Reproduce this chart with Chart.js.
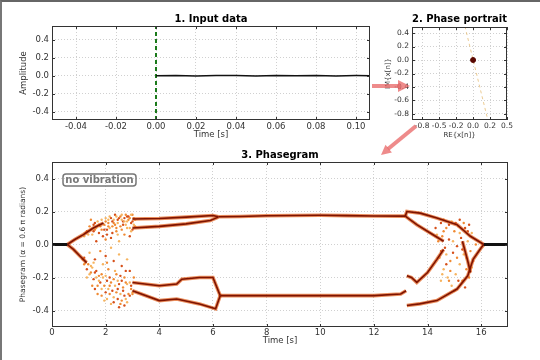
<!DOCTYPE html>
<html>
<head>
<meta charset="utf-8">
<script src="https://cdn.jsdelivr.net/npm/chart.js@4.4.1/dist/chart.umd.min.js"></script>
<style>
  body { margin: 0; background: #fff; }
  #wrap { position: relative; width: 540px; height: 360px; overflow: hidden; background: #fff; }
  #wrap canvas { position: absolute; }
  #arrows { position: absolute; left: 0; top: 0; pointer-events: none; }
  #edge { position: absolute; left: 0; top: 0; width: 540px; height: 360px; box-sizing: border-box;
          border-top: 2px solid #666; border-left: 2px solid #777; pointer-events: none; }
</style>
</head>
<body>
<div id="wrap">
  <canvas id="inputChart" width="380" height="145" style="left:0;top:0"></canvas>
  <canvas id="portraitChart" width="168" height="145" style="left:372px;top:0"></canvas>
  <canvas id="phaseChart" width="540" height="222" style="left:0;top:138px"></canvas>
  <svg id="arrows" width="540" height="360">
    <g fill="rgba(232,100,100,0.75)">
      <rect x="372" y="84" width="28" height="4"/>
      <polygon points="398,80 410,86 398,92"/>
      <polygon points="381,155 391.9,152.4 385.5,144.8"/>
    </g>
    <line x1="416" y1="126" x2="388" y2="149" stroke="rgba(232,100,100,0.75)" stroke-width="4"/>
  </svg>
  <div id="edge"></div>
</div>
<script>
const FONT = "'DejaVu Sans', sans-serif";

// 1. input data
const inputTime = [0, 0.01, 0.02, 0.03, 0.04, 0.05, 0.06, 0.07, 0.08, 0.09, 0.10, 0.107];
const inputAmp = [0, 0.002, -0.002, 0.001, 0.003, -0.002, 0.002, -0.001, 0.002, -0.002, 0.001, 0];
const triggerTime = 0;
const inputXTicks = [-0.04, -0.02, 0, 0.02, 0.04, 0.06, 0.08, 0.10];
const inputXLabels = ['-0.04', '-0.02', '0.00', '0.02', '0.04', '0.06', '0.08', '0.10'];
const ampTicks = [0.4, 0.2, 0, -0.2, -0.4];
const ampLabels = ['0.4', '0.2', '0.0', '-0.2', '-0.4'];

// 2. phase portrait
const portraitPoint = { re: 0, im: 0 };
const portraitTraceRe = [-0.12, 0.22];
const portraitTraceIm = [0.5, -0.9];
const reTicks = [-0.75, -0.5, -0.25, 0, 0.25, 0.5];
const reLabels = ['-0.8', '-0.5', '-0.2', '0.0', '0.2', '0.5'];
const imTicks = [0.4, 0.2, 0, -0.2, -0.4, -0.6, -0.8];
const imLabels = ['0.4', '0.2', '0.0', '-0.2', '-0.4', '-0.6', '-0.8'];

// 3. phasegram branches [time, phase]
const steadyLeft = [[0, 0], [0.57, 0]];
const steadyRight = [[16.1, 0], [17, 0]];
const stemUp = [[0.57, 0], [0.85, 0.03], [1.17, 0.06], [1.54, 0.10], [1.92, 0.13]];
const stemDown = [[0.57, 0], [0.8, -0.03], [1.04, -0.07], [1.29, -0.11]];
const upOuter = [[3.0, 0.155], [4.0, 0.158], [5.0, 0.166], [6.0, 0.176], [6.2, 0.168]];
const upInner = [[3.0, 0.10], [4.0, 0.11], [5.0, 0.125], [5.9, 0.145], [6.2, 0.166]];
const upMerged = [[6.2, 0.168], [7, 0.170], [8, 0.174], [9, 0.176], [10, 0.177], [11, 0.175], [12, 0.173], [13.17, 0.172]];
const lowInner = [[3.0, -0.23], [4.0, -0.25], [4.65, -0.24], [4.84, -0.21], [5.5, -0.20], [6.0, -0.20], [6.27, -0.31]];
const lowOuter = [[3.0, -0.28], [4.0, -0.34], [4.65, -0.33], [5.5, -0.36], [6.1, -0.39], [6.27, -0.31]];
const lowMerged = [[6.27, -0.31], [8, -0.31], [10, -0.31], [12, -0.31], [13.0, -0.30], [13.2, -0.28]];
const endUpOuter = [[13.17, 0.172], [13.23, 0.20], [13.73, 0.19], [14.35, 0.16], [15.1, 0.12], [15.6, 0.05], [16.1, 0]];
const endUpInner = [[13.17, 0.172], [13.6, 0.12], [14.1, 0.07], [14.6, 0.02]];
const endLowOuter = [[13.23, -0.37], [13.7, -0.36], [14.35, -0.34], [15.1, -0.27], [15.5, -0.19], [15.7, -0.09], [16.0, -0.02], [16.1, 0]];
const endLowInner = [[13.23, -0.19], [13.4, -0.20], [13.6, -0.23], [14.0, -0.17], [14.35, -0.09], [14.6, -0.03]];
const endLowSpur = [[15.3, 0.02], [15.5, -0.10], [15.6, -0.17]];

// scattered clouds [time, phase]
const cloudUpLeft = [[1.3,0.08],[1.4,0.11],[1.5,0.06],[1.55,0.12],[1.6,0.09],[1.7,0.14],[1.75,0.07],[1.8,0.11],[1.85,0.15],[1.9,0.05],
  [1.95,0.12],[2.0,0.16],[2.05,0.09],[2.1,0.13],[2.15,0.17],[2.2,0.04],[2.25,0.11],[2.3,0.15],[2.35,0.18],[2.4,0.08],
  [2.45,0.13],[2.5,0.16],[2.55,0.11],[2.6,0.18],[2.65,0.14],[2.7,0.06],[2.75,0.12],[2.8,0.17],[2.85,0.15],[2.9,0.10],
  [2.95,0.13],[3.0,0.18],[3.05,0.12],[1.65,0.02],[2.0,0.03],[2.5,0.02],[2.25,0.07],[1.45,0.15],[1.2,0.05],[2.9,0.05],
  [2.0,0.14],[2.1,0.15],[2.2,0.16],[2.3,0.13],[2.4,0.17],[2.45,0.15],[2.55,0.17],[2.6,0.15],[2.7,0.16],[2.75,0.18],
  [2.8,0.14],[2.85,0.17],[2.9,0.16],[2.95,0.18],[3.0,0.14],[3.05,0.16],[3.1,0.15],[2.65,0.12],[2.35,0.12],[2.15,0.10],
  [1.95,0.09],[1.75,0.12],[1.65,0.10],[1.55,0.08],[1.45,0.09],[1.35,0.06],[1.25,0.07],[2.6,0.09],[2.8,0.10],[3.0,0.09],
  [3.1,0.11],[2.45,0.06],[2.05,0.06],[1.85,0.09],[2.7,0.14],[2.25,0.14],[2.4,0.10],[2.95,0.08],[1.6,0.13],[2.1,0.11]];
const cloudLowLeft = [[1.2,-0.08],[1.35,-0.12],[1.5,-0.14],[1.6,-0.17],[1.75,-0.19],[1.9,-0.2],[2.05,-0.22],[2.2,-0.23],[2.35,-0.25],[2.5,-0.24],
  [2.65,-0.26],[2.8,-0.24],[2.95,-0.25],[1.2,-0.12],[1.4,-0.18],[1.55,-0.21],[1.7,-0.25],[1.85,-0.27],[2.0,-0.29],[2.15,-0.3],
  [2.3,-0.32],[2.45,-0.33],[2.6,-0.34],[2.75,-0.33],[2.9,-0.31],[3.0,-0.3],[1.4,-0.05],[1.6,-0.09],[1.8,-0.04],[1.9,-0.12],
  [2.0,-0.07],[2.1,-0.15],[2.2,-0.02],[2.3,-0.1],[2.4,-0.18],[2.5,-0.06],[2.6,-0.13],[2.7,-0.2],[2.8,-0.09],[2.9,-0.16],
  [1.7,-0.3],[2.2,-0.36],[2.5,-0.38],[1.5,-0.25],[1.3,-0.2],[2.7,-0.37],[3.05,-0.2],[1.95,-0.34],
  [1.15,-0.09],[1.25,-0.11],[1.45,-0.13],[1.65,-0.16],[1.85,-0.18],[2.0,-0.19],[2.15,-0.2],[2.3,-0.21],[2.45,-0.22],[2.6,-0.22],
  [2.75,-0.23],[2.9,-0.23],[1.3,-0.15],[1.45,-0.17],[1.65,-0.2],[1.8,-0.23],[1.95,-0.25],[2.1,-0.27],[2.25,-0.28],[2.4,-0.29],
  [2.55,-0.3],[2.7,-0.31],[2.85,-0.3],[3.0,-0.29],[1.6,-0.27],[1.85,-0.31],[2.05,-0.33],[2.3,-0.35],[2.55,-0.36],[2.8,-0.35],
  [2.45,-0.27],[2.15,-0.25],[1.75,-0.22],[2.65,-0.28],[2.95,-0.27],[2.35,-0.16],[2.55,-0.19],[2.05,-0.11],[1.55,-0.11],[2.75,-0.16]];
const cloudRight = [[14.3,0.1],[14.4,0.02],[14.45,-0.08],[14.5,0.13],[14.55,0.05],[14.6,-0.15],[14.65,-0.02],[14.7,0.1],[14.75,-0.2],[14.8,0.03],
  [14.85,-0.1],[14.9,0.14],[14.95,-0.05],[15.0,0.08],[15.05,-0.18],[15.1,-0.01],[15.15,0.11],[15.2,-0.12],[15.25,0.04],[15.3,-0.22],
  [15.35,-0.06],[15.4,0.1],[15.45,-0.15],[15.5,0.02],[15.55,0.12],[15.6,-0.04],[15.65,0.07],[15.7,-0.1],[14.6,0.15],[14.9,-0.25],
  [15.2,0.15],[15.0,-0.28],[14.5,-0.22],[14.7,-0.12],[15.8,0.0],
  [14.35,0.06],[14.5,-0.04],[14.6,0.08],[14.7,-0.06],[14.8,0.12],[14.85,-0.16],[14.95,0.02],[15.05,0.13],[15.1,-0.08],[15.2,0.07],
  [15.3,-0.03],[15.35,0.13],[15.45,-0.08],[15.5,0.08],[15.55,-0.2],[15.65,-0.14],[15.15,-0.22],[14.8,-0.22],[14.55,-0.18],[15.4,-0.26]];
const phaseXTicks = [0, 2, 4, 6, 8, 10, 12, 14, 16];
const phaseXLabels = ['0', '2', '4', '6', '8', '10', '12', '14', '16'];
const phaseYTicks = [0.4, 0.2, 0, -0.2, -0.4];
const phaseYLabels = ['0.4', '0.2', '0.0', '-0.2', '-0.4'];

const pts = arr => arr.map(p => ({ x: p[0], y: p[1] }));

function scaleOpts(min, max, ticks, labels, title, size, titlePad, tickPad, tickSize, titleSize) {
  return {
    type: 'linear', min: min, max: max,
    afterBuildTicks: s => { s.ticks = ticks.map(v => ({ value: v })); },
    afterFit: s => { if (s.isHorizontal()) s.height = size; else s.width = size; },
    ticks: { callback: (v, i) => labels[i], color: '#333', font: { family: FONT, size: tickSize },
             padding: tickPad, maxRotation: 0, autoSkip: false },
    grid: { color: '#c4c4c4', lineWidth: 0.8, drawTicks: false },
    border: { display: false, dash: [1, 2] },
    title: { display: true, text: title, color: '#333', font: { family: FONT, size: titleSize }, padding: titlePad }
  };
}

// frame with inward ticks, like the reference plots
const framePlugin = {
  id: 'frame',
  afterDraw(chart) {
    const { ctx, chartArea: a, scales } = chart;
    ctx.save();
    ctx.strokeStyle = '#333';
    ctx.lineWidth = 1;
    ctx.strokeRect(a.left + 0.5, a.top + 0.5, a.width - 1, a.height - 1);
    ctx.beginPath();
    scales.x.ticks.forEach(t => {
      const p = Math.round(scales.x.getPixelForValue(t.value)) + 0.5;
      ctx.moveTo(p, a.top); ctx.lineTo(p, a.top + 3);
      ctx.moveTo(p, a.bottom); ctx.lineTo(p, a.bottom - 3);
    });
    scales.y.ticks.forEach(t => {
      const p = Math.round(scales.y.getPixelForValue(t.value)) + 0.5;
      ctx.moveTo(a.left, p); ctx.lineTo(a.left + 3, p);
      ctx.moveTo(a.right, p); ctx.lineTo(a.right - 3, p);
    });
    ctx.stroke();
    ctx.restore();
  }
};

const titleOpts = (text, top, bottom) => ({
  display: true, text: text, fullSize: false, color: '#000',
  font: { family: FONT, size: 10, weight: 'bold' }, padding: { top: top, bottom: bottom }
});

// 1. Input data
new Chart(document.getElementById('inputChart'), {
  type: 'scatter',
  data: {
    datasets: [{
      data: inputTime.map((t, i) => ({ x: t, y: inputAmp[i] })),
      showLine: true, borderColor: '#111', borderWidth: 1.5, pointRadius: 0
    }, {
      data: [{ x: triggerTime, y: -0.49 }, { x: triggerTime, y: 0.55 }],
      showLine: true, borderColor: '#1b7a1b', borderWidth: 2, borderDash: [4, 3], pointRadius: 0
    }]
  },
  options: {
    responsive: false, animation: false,
    layout: { padding: { left: 0, right: 10, top: 0, bottom: 0 } },
    plugins: { legend: { display: false }, tooltip: { enabled: false }, title: titleOpts('1. Input data', 13, 1) },
    scales: {
      x: scaleOpts(-0.052, 0.107, inputXTicks, inputXLabels, 'Time [s]', 25, { bottom: 5 }, 2, 8.5, 8.5),
      y: scaleOpts(-0.49, 0.55, ampTicks, ampLabels, 'Amplitude', 52, { top: 19 }, 3, 8.5, 8.5)
    }
  },
  plugins: [framePlugin]
});

// 2. Phase portrait
new Chart(document.getElementById('portraitChart'), {
  type: 'scatter',
  data: {
    datasets: [{
      data: [{ x: portraitPoint.re, y: portraitPoint.im }],
      pointRadius: 2.5, backgroundColor: '#5a0800', borderColor: '#5a0800'
    }, {
      data: portraitTraceRe.map((r, i) => ({ x: r, y: portraitTraceIm[i] })),
      showLine: true, borderColor: 'rgba(230,190,120,0.8)', borderWidth: 1, borderDash: [3, 3], pointRadius: 0
    }]
  },
  options: {
    responsive: false, animation: false,
    layout: { padding: { left: 0, right: 33, top: 0, bottom: 0 } },
    plugins: { legend: { display: false }, tooltip: { enabled: false }, title: titleOpts('2. Phase portrait', 13, 2) },
    scales: {
      x: scaleOpts(-0.9, 0.5, reTicks, reLabels, 'RE{x[n]}', 25, { bottom: 6 }, 2, 7.5, 7),
      y: scaleOpts(-0.89, 0.49, imTicks, imLabels, 'IM{x[n]}', 40, { top: 12 }, 3, 7.5, 7)
    }
  },
  plugins: [framePlugin]
});

// 3. Phasegram -- Chart.js paints the first dataset on top, so push top layers first
const branches = [stemUp, stemDown, upOuter, upInner, upMerged, lowInner, lowOuter, lowMerged,
  endUpOuter, endUpInner, endLowOuter, endLowInner, endLowSpur];
const datasets = [];
[steadyLeft, steadyRight].forEach(s => datasets.push({
  data: pts(s), showLine: true, borderColor: '#111', borderWidth: 3, pointRadius: 0
}));
branches.forEach(b => datasets.push({
  data: pts(b), showLine: true, borderColor: '#7e1300', borderWidth: 1.6, pointRadius: 0
}));
branches.forEach(b => datasets.push({
  data: pts(b), showLine: true, borderColor: 'rgba(226,98,30,0.72)', borderWidth: 3.6, pointRadius: 0
}));
[cloudUpLeft, cloudLowLeft, cloudRight].forEach(c => datasets.push({
  data: pts(c), pointRadius: 1.2, borderWidth: 0,
  backgroundColor: ctx => (ctx.dataIndex % 3 === 0 ? '#d6501a' : (ctx.dataIndex % 3 === 1 ? '#f08a33' : '#f6b460'))
}));

const labelPlugin = {
  id: 'noVibration',
  afterDraw(chart) {
    const { ctx, chartArea: a } = chart;
    const x = a.left + 11, y = a.top + 12, w = 73, h = 12;
    ctx.save();
    ctx.strokeStyle = '#777';
    ctx.lineWidth = 1.5;
    ctx.beginPath();
    ctx.roundRect(x, y, w, h, 3);
    ctx.stroke();
    ctx.fillStyle = '#777';
    ctx.font = 'bold 10px ' + FONT;
    ctx.textAlign = 'center';
    ctx.textBaseline = 'middle';
    ctx.fillText('no vibration', x + w / 2, y + h / 2 + 0.5);
    ctx.restore();
  }
};

new Chart(document.getElementById('phaseChart'), {
  type: 'scatter',
  data: { datasets: datasets },
  options: {
    responsive: false, animation: false,
    layout: { padding: { left: 0, right: 32, top: 0, bottom: 0 } },
    plugins: { legend: { display: false }, tooltip: { enabled: false }, title: titleOpts('3. Phasegram', 11, 1) },
    scales: {
      x: scaleOpts(0, 17, phaseXTicks, phaseXLabels, 'Time [s]', 33, { bottom: 14 }, 1, 8.5, 8.5),
      y: scaleOpts(-0.5, 0.5, phaseYTicks, phaseYLabels, 'Phasegram (α = 0.6 π radians)', 52, { top: 19 }, 3, 8.5, 7.5)
    }
  },
  plugins: [framePlugin, labelPlugin]
});
</script>
</body>
</html>
